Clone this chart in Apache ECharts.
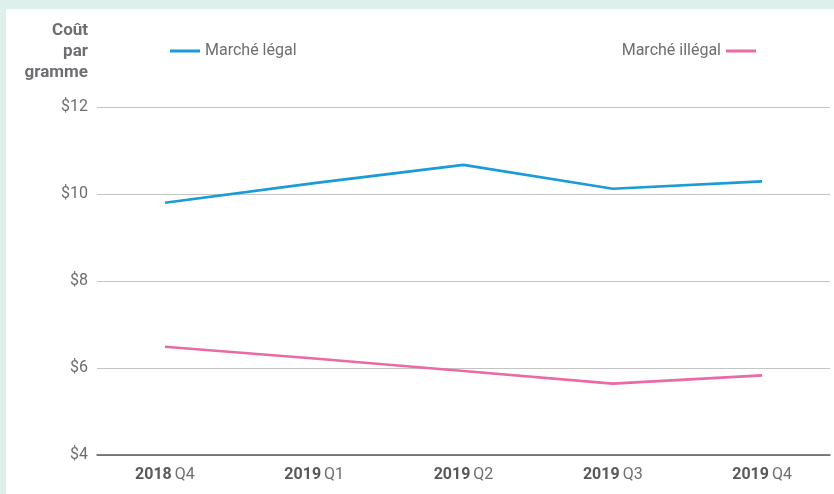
<!DOCTYPE html>
<html>
<head>
<meta charset="utf-8">
<script src="https://cdn.jsdelivr.net/npm/echarts@6/dist/echarts.min.js"></script>
<style>
  html, body { margin: 0; padding: 0; background: #ddf0eb; }
  #chart { width: 834px; height: 494px; }
</style>
</head>
<body>
<div id="chart"></div>
<script>
// Coût par gramme, marché légal vs illégal
var years = ['2018', '2019', '2019', '2019', '2019'];
var quarters = ['Q4', 'Q1', 'Q2', 'Q3', 'Q4'];
var legalValues = [9.8, 10.25, 10.67, 10.12, 10.29];
var illegalValues = [6.49, 6.22, 5.93, 5.64, 5.83];
var yTicks = [4, 6, 8, 10, 12];

(function() {
    var font = '"Liberation Sans Narrow", "Roboto", "Liberation Sans", sans-serif';
    var gray = '#6d6e71';
    var idx = years.map(function(y, i) { return i; });

    function pairs(vals) {
        return vals.map(function(v, i) { return [i, v]; });
    }

    var option = {
        backgroundColor: '#ddf0eb',
        animation: false,
        textStyle: { fontFamily: font },
        graphic: [{
            type: 'rect',
            z: -10,
            shape: { x: 6, y: 9, width: 834, height: 494 },
            style: { fill: '#ffffff' }
        }, {
            type: 'text',
            x: 88,
            y: 20,
            style: {
                text: 'Coût\npar\ngramme',
                align: 'right',
                fill: gray,
                font: 'bold 17px ' + font,
                lineHeight: 21
            }
        }],
        legend: [{
            data: ['Marché légal'],
            left: 165,
            top: 38,
            icon: 'rect',
            itemWidth: 30,
            itemHeight: 3,
            itemGap: 10,
            textStyle: { color: gray, fontSize: 16, fontFamily: font }
        }, {
            data: ['Marché illégal'],
            right: 73,
            top: 38,
            align: 'right',
            icon: 'rect',
            itemWidth: 30,
            itemHeight: 3,
            textStyle: { color: gray, fontSize: 16, fontFamily: font }
        }],
        grid: {
            left: 97,
            right: 4,
            top: 107,
            bottom: 39
        },
        xAxis: {
            type: 'value',
            min: -0.455,
            max: 4.455,
            axisLine: { show: true, lineStyle: { color: '#58595b', width: 1.5 } },
            axisTick: { show: false },
            splitLine: { show: false },
            axisLabel: {
                customValues: idx,
                margin: 12,
                formatter: function(v) {
                    var i = Math.round(v);
                    return '{b|' + years[i] + '} {n|' + quarters[i] + '}';
                },
                rich: {
                    b: { fontWeight: 'bold', fontSize: 16, color: '#58595b', fontFamily: font },
                    n: { fontSize: 16, color: gray, fontFamily: font }
                }
            }
        },
        yAxis: {
            type: 'value',
            min: yTicks[0],
            max: yTicks[yTicks.length - 1],
            interval: 2,
            axisLine: { show: false },
            axisTick: { show: false },
            axisLabel: {
                margin: 9,
                color: gray,
                fontSize: 16,
                fontFamily: font,
                formatter: '${value}'
            },
            splitLine: { lineStyle: { color: '#c4c4c4', width: 1.2 } }
        },
        series: [{
            name: 'Marché légal',
            type: 'line',
            data: pairs(legalValues),
            symbol: 'none',
            itemStyle: { color: '#1b9bd7' },
            lineStyle: { color: '#1b9bd7', width: 2.6 }
        }, {
            name: 'Marché illégal',
            type: 'line',
            data: pairs(illegalValues),
            symbol: 'none',
            itemStyle: { color: '#e96aa4' },
            lineStyle: { color: '#e96aa4', width: 2.6 }
        }]
    };

    var chart = echarts.init(document.getElementById('chart'));
    chart.setOption(option);
})();
</script>
</body>
</html>
